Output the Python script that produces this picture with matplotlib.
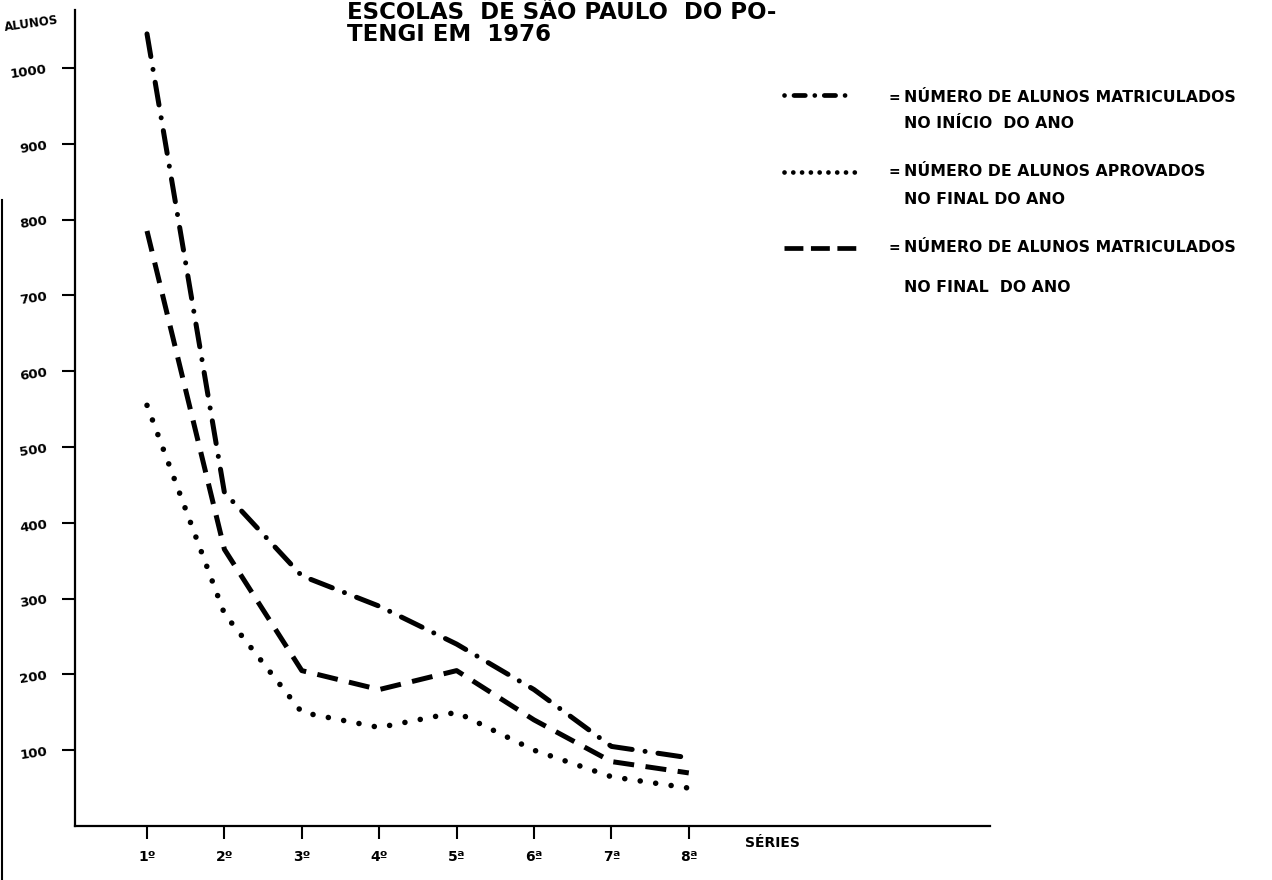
import matplotlib
matplotlib.use("Agg")
import matplotlib.pyplot as plt
from matplotlib.lines import Line2D

# ---------------- data ----------------
series_labels = ["1º", "2º", "3º", "4º", "5ª", "6ª", "7ª", "8ª"]
matric_inicio = [1045, 440, 330, 290, 240, 180, 105, 90]
matric_final = [785, 365, 205, 180, 205, 140, 85, 70]
aprovados = [555, 280, 150, 130, 150, 100, 65, 50]
y_ticks = [100, 200, 300, 400, 500, 600, 700, 800, 900, 1000]

title_lines = ["ESCOLAS  DE SÃO PAULO  DO PO-", "TENGI EM  1976"]
legend_texts = [
    ("NÚMERO DE ALUNOS MATRICULADOS", "NO INÍCIO  DO ANO"),
    ("NÚMERO DE ALUNOS APROVADOS", "NO FINAL DO ANO"),
    ("NÚMERO DE ALUNOS MATRICULADOS", "NO FINAL  DO ANO"),
]

W, H = 1272, 880
plt.rcParams['font.family'] = ['DejaVu Sans']
fig = plt.figure(figsize=(W / 100, H / 100), dpi=100)
fig.patch.set_facecolor("white")


def fx(px):
    return px / W


def fy(py):
    return 1 - py / H


# axes: y-axis at x=75px, x-axis at y=826px, top at 10px, right end 990px
ax = fig.add_axes([fx(75), fy(826), fx(990) - fx(75), fy(10) - fy(826)])
x = list(range(1, len(series_labels) + 1))

lw = 3.6
ax.plot(x, matric_inicio, color="black", lw=lw, solid_capstyle="round",
        dash_capstyle="round", dashes=(4.6, 2.6, 0.01, 2.6))
ax.plot(x, matric_final, color="black", lw=lw, dash_capstyle="butt",
        dashes=(4.2, 2.3))
ax.plot(x, aprovados, color="black", lw=4.0, dash_capstyle="round",
        dashes=(0.01, 2.8))

px_per_unit = 77.4
ax.set_xlim(1 - (147 - 75) / px_per_unit, 1 + (990 - 147) / px_per_unit)
ax.set_ylim(0, (826 - 10) / 0.758)

for s in ["top", "right"]:
    ax.spines[s].set_visible(False)
for s in ["left", "bottom"]:
    ax.spines[s].set_linewidth(1.6)
    ax.spines[s].set_color("black")

ax.set_xticks(x)
ax.set_xticklabels(series_labels, fontsize=10, fontweight="bold")
ax.set_yticks(y_ticks)
ax.set_yticklabels([str(v) for v in y_ticks], fontsize=9.5, fontweight="bold",
                   rotation=8)
ax.tick_params(axis="y", direction="out", length=9.5, width=1.5, pad=10)
ax.tick_params(axis="x", direction="out", length=9, width=1.5, pad=8)

# axis labels
fig.text(fx(31), fy(24), "ALUNOS", fontsize=8.5, fontweight="bold",
         ha="center", va="center", rotation=8)
fig.text(fx(745), fy(843), "SÉRIES", fontsize=10, fontweight="bold",
         ha="left", va="center")

# title
fig.text(fx(347), fy(19), title_lines[0], fontsize=16.5, fontweight="bold",
         ha="left", va="baseline")
fig.text(fx(347), fy(41), title_lines[1], fontsize=16.5, fontweight="bold",
         ha="left", va="baseline")

# legend
sample_y = [95, 172, 248]
text_y = [(98, 123), (172, 199), (248, 287)]
styles = [
    dict(lw=3.4, dash_capstyle="round", dashes=(0.01, 2.0, 2.4, 2.0, 0.01, 2.0, 2.4, 2.0, 0.01, 10)),
    dict(lw=3.4, dash_capstyle="round", dashes=(0.01, 1.85)),
    dict(lw=3.4, dash_capstyle="butt", dashes=(4.0, 1.6)),
]
for sy, st in zip(sample_y, styles):
    fig.add_artist(Line2D([fx(784), fx(858)], [fy(sy), fy(sy)], color="black",
                          transform=fig.transFigure, **st))
for (t1, t2), (y1, y2) in zip(legend_texts, text_y):
    fig.text(fx(889), fy(y1), "=", fontsize=10, fontweight="bold",
             ha="left", va="center")
    fig.text(fx(904), fy(y1), t1, fontsize=11.3, fontweight="bold",
             ha="left", va="center")
    fig.text(fx(904), fy(y2), t2, fontsize=11.3, fontweight="bold",
             ha="left", va="center")

# page edge of the scan
fig.add_artist(Line2D([fx(2), fx(2)], [fy(200), fy(880)], color="black",
                      lw=1.5, transform=fig.transFigure))

fig.savefig("out.png", dpi=100, facecolor="white")
